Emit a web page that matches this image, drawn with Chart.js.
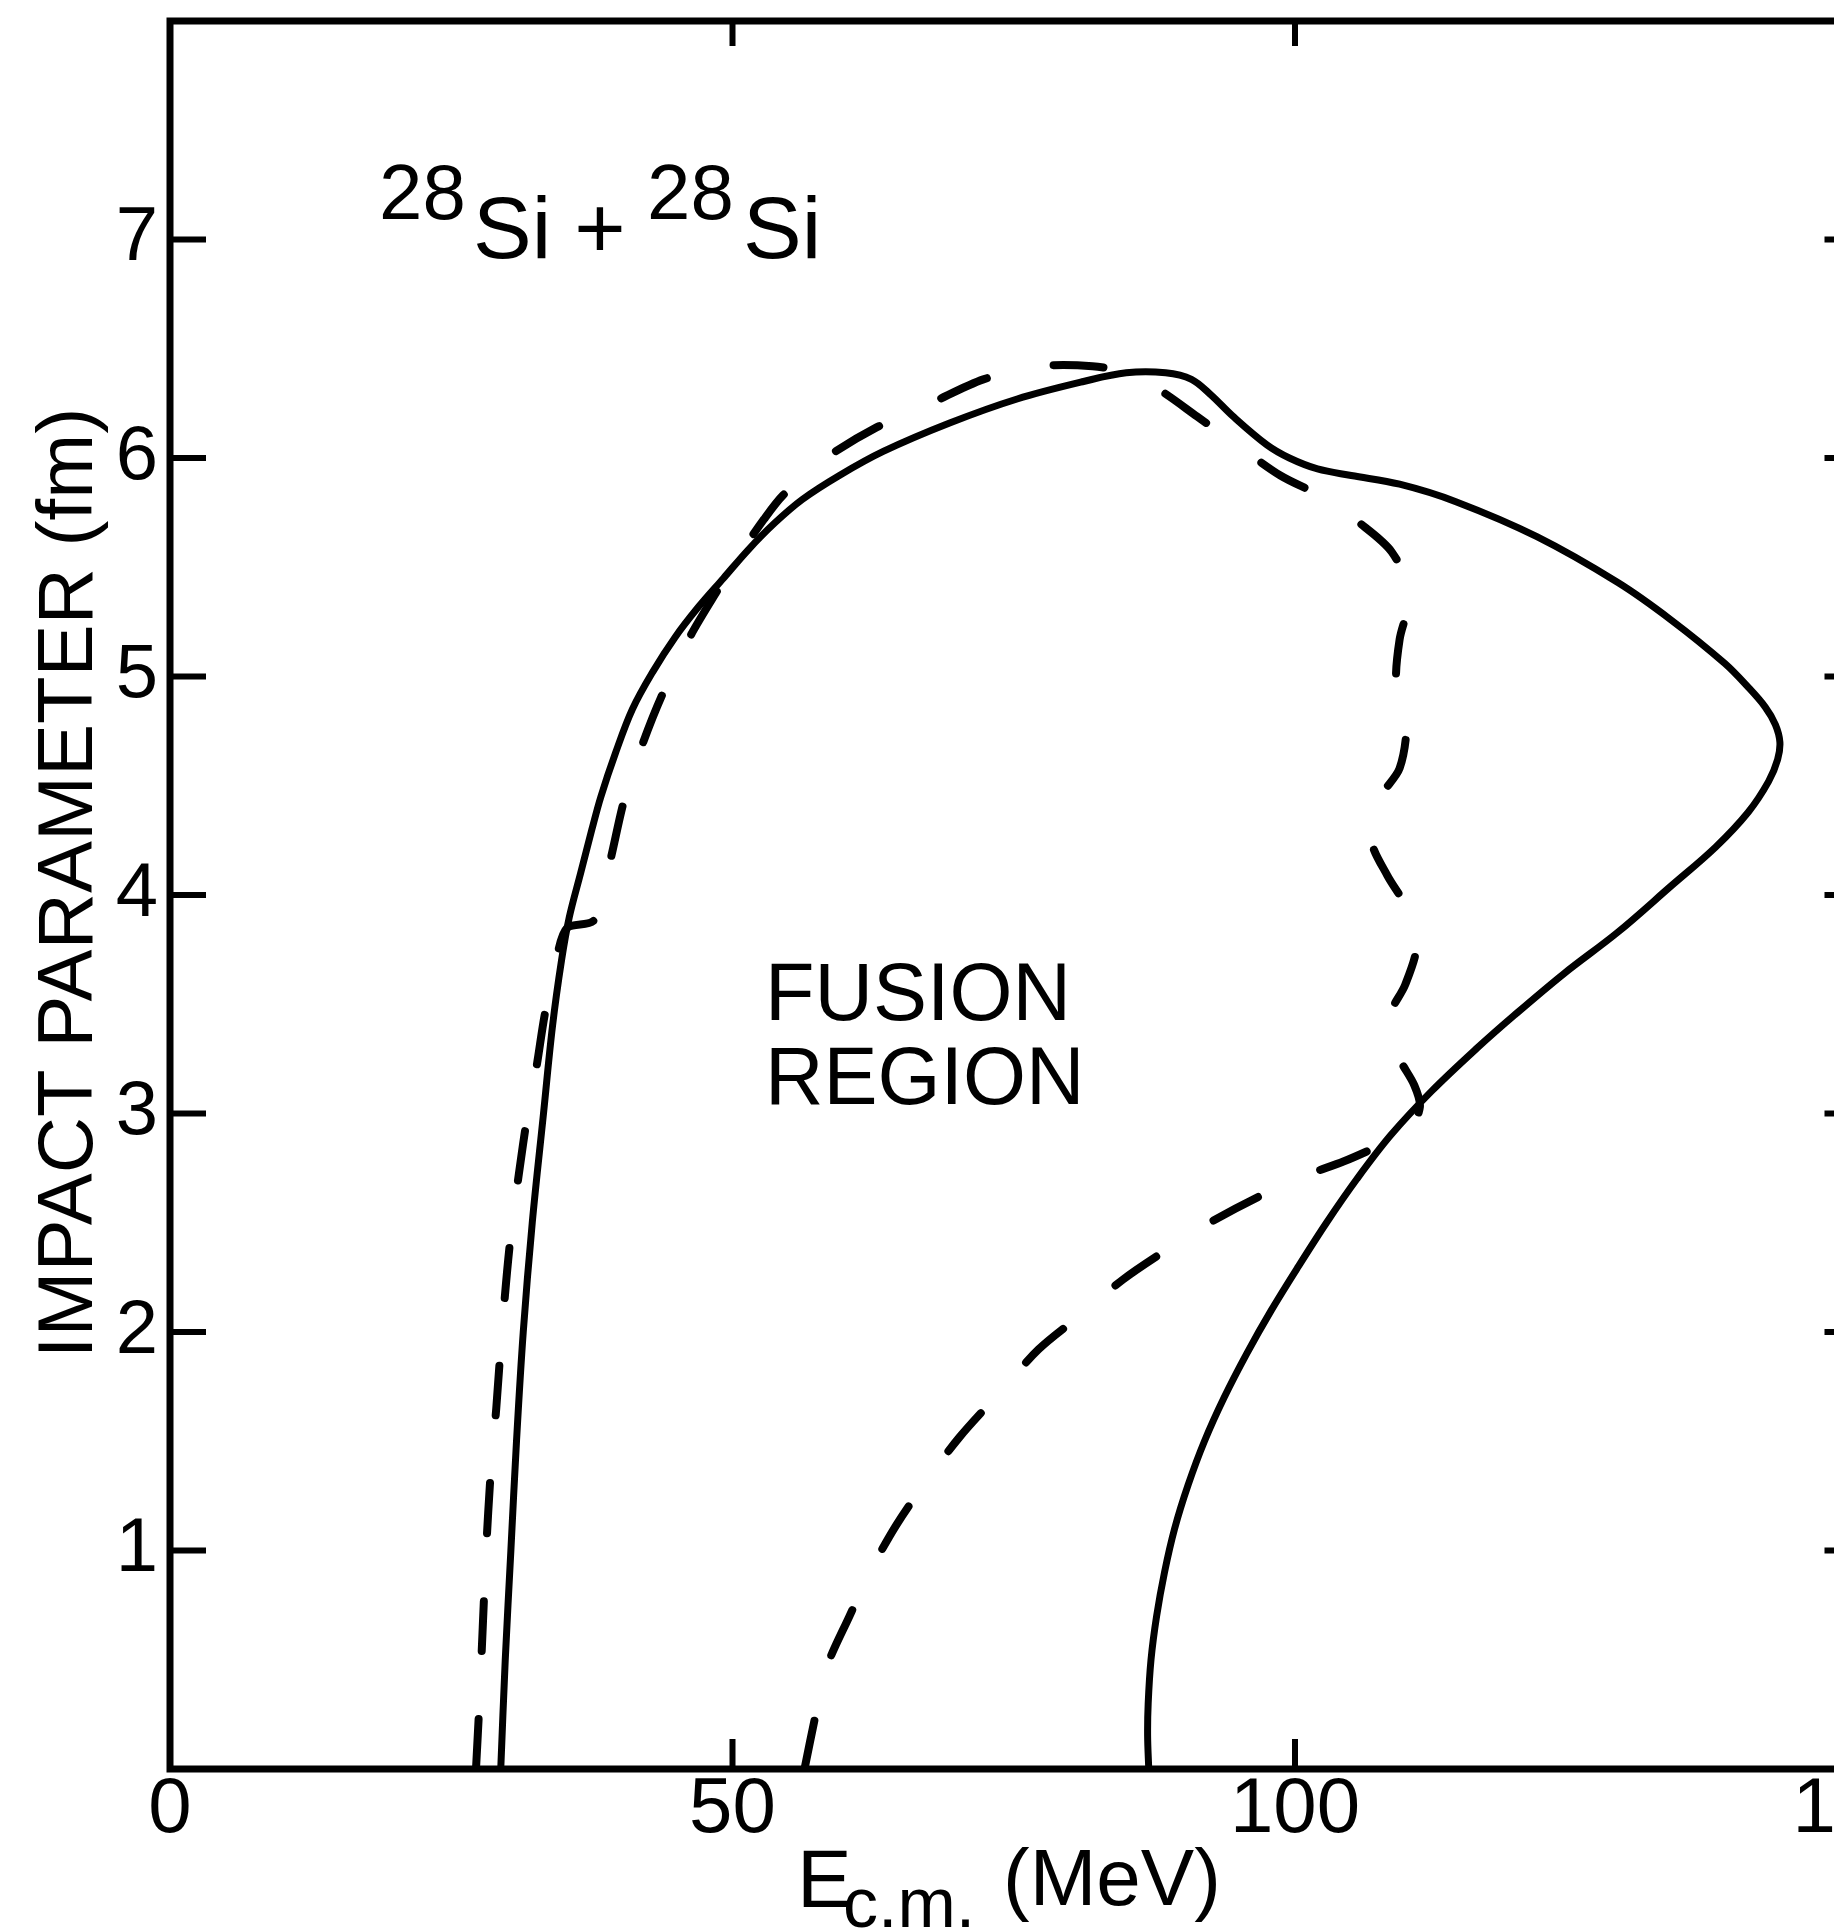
<!DOCTYPE html>
<html>
<head>
<meta charset="utf-8">
<script src="https://cdn.jsdelivr.net/npm/chart.js@4.4.1/dist/chart.umd.min.js"></script>
<style>
  html, body { margin: 0; padding: 0; background: #fff; overflow: hidden; }
  #wrap { width: 1940px; height: 1931px; }
</style>
</head>
<body>
<div id="wrap"><canvas id="chart" width="1940" height="1931"></canvas></div>
<script>
// 28Si + 28Si fusion region: impact parameter (fm) vs E c.m. (MeV)
const xTicks = [0, 50, 100, 150];
const yTicks = [1, 2, 3, 4, 5, 6, 7];

// solid boundary
const solidE = [29.4, 29.8, 30.3, 30.8, 31.4, 32.2, 33.2, 34.0, 34.8, 35.5, 36.5, 37.5, 38.3, 39.6, 41.1,
  42.9, 44.9, 47.0, 49.2, 51.4, 53.7, 56.2, 59.5, 63.4, 69.3, 75.3, 81.2, 85.0, 88.5, 90.8, 92.5,
  94.5, 97.5, 99.5, 102.0, 105.0, 109.3, 114.3, 121.5, 128.7, 133.4, 138.2, 140.3, 141.8, 142.7,
  143.1, 142.9, 142.1, 140.3, 137.4, 133.4, 128.7, 123.9, 119.5, 116.2, 112.1, 108.5, 105.5, 102.8,
  100.3, 97.9, 95.7, 93.7, 91.95, 90.5, 89.3, 88.4, 87.7, 87.2, 86.95, 86.9, 87.0];
const solidB = [0, 0.5, 1.0, 1.5, 2.0, 2.5, 3.0, 3.4, 3.7, 3.9, 4.1, 4.3, 4.45, 4.65, 4.85,
  5.02, 5.18, 5.32, 5.45, 5.58, 5.70, 5.81, 5.92, 6.03, 6.16, 6.27, 6.35, 6.39, 6.39, 6.36, 6.29,
  6.19, 6.06, 6.00, 5.95, 5.92, 5.88, 5.80, 5.64, 5.43, 5.26, 5.06, 4.95, 4.86, 4.78,
  4.70, 4.62, 4.52, 4.38, 4.22, 4.04, 3.83, 3.64, 3.45, 3.30, 3.10, 2.90, 2.70, 2.50,
  2.30, 2.10, 1.90, 1.70, 1.50, 1.30, 1.10, 0.90, 0.70, 0.50, 0.30, 0.15, 0];

// dashed boundary
const dashE = [27.2, 27.5, 27.8, 28.1, 28.5, 29.0, 29.5, 30.2, 31.0, 31.8, 32.6, 33.3, 34.4, 35.3, 37.6,
  38.3, 39.1, 40.4, 42.0, 43.7, 46.2, 48.5, 50.8, 52.8, 54.5, 58.0, 62.8, 67.6, 72.3, 77.3, 82.0,
  85.0, 88.0, 91.3, 95.1, 98.7, 102.5, 105.8, 108.6, 110.2, 109.3, 109.0, 109.9, 109.3, 107.5, 106.8,
  108.2, 110.3, 110.8, 109.8, 108.3, 109.2, 110.6, 111.1, 110.1, 107.8, 104.3, 101.1, 96.8, 92.4,
  88.4, 84.7, 81.0, 77.2, 73.7, 70.2, 67.4, 64.6, 62.3, 60.4, 58.4, 57.4, 56.4];
const dashB = [0, 0.3, 0.65, 1.0, 1.35, 1.65, 2.0, 2.4, 2.72, 3.0, 3.22, 3.45, 3.72, 3.85, 3.88,
  4.0, 4.15, 4.44, 4.69, 4.91, 5.18, 5.38, 5.57, 5.72, 5.83, 5.99, 6.14, 6.25, 6.36, 6.42, 6.42,
  6.39, 6.31, 6.19, 6.05, 5.92, 5.82, 5.70, 5.57, 5.38, 5.17, 4.97, 4.79, 4.58, 4.44, 4.25,
  4.09, 3.91, 3.76, 3.59, 3.43, 3.26, 3.13, 3.03, 2.92, 2.86, 2.78, 2.72, 2.62, 2.50,
  2.37, 2.24, 2.08, 1.92, 1.72, 1.52, 1.33, 1.12, 0.91, 0.70, 0.47, 0.25, 0];

const toPoints = (xs, ys) => xs.map((v, i) => ({ x: v, y: ys[i] }));

const txt = '"Liberation Sans", Arial, sans-serif';

// box, inward ticks and the lettering
const frame = {
  id: 'frame',
  afterDraw(chart) {
    const { ctx, chartArea: a, scales: { x, y } } = chart;
    ctx.save();
    ctx.strokeStyle = '#000';
    ctx.lineWidth = 7;
    ctx.strokeRect(a.left, a.top, a.right - a.left, a.bottom - a.top);

    ctx.lineWidth = 6;
    ctx.beginPath();
    yTicks.forEach(v => {
      const py = y.getPixelForValue(v);
      ctx.moveTo(a.left, py); ctx.lineTo(a.left + 36, py);
      ctx.moveTo(a.right, py); ctx.lineTo(a.right - 33, py);
    });
    xTicks.slice(1, -1).forEach(v => {
      const px = x.getPixelForValue(v);
      ctx.moveTo(px, a.bottom); ctx.lineTo(px, a.bottom - 30);
      ctx.moveTo(px, a.top); ctx.lineTo(px, a.top + 25);
    });
    ctx.stroke();

    ctx.fillStyle = '#000';
    ctx.textBaseline = 'alphabetic';
    ctx.textAlign = 'left';

    // reaction label
    ctx.font = '78px ' + txt;
    ctx.fillText('28', 379, 219);
    ctx.fillText('28', 647, 219);
    ctx.font = '88px ' + txt;
    ctx.fillText('Si', 473, 258);
    ctx.fillText('Si', 743, 258);
    ctx.textAlign = 'center';
    ctx.fillText('+', 600, 258);

    ctx.textAlign = 'left';
    ctx.font = '81px ' + txt;
    ctx.fillText('FUSION', 765, 1020);
    ctx.fillText('REGION', 765, 1104);

    // x title with subscript
    ctx.font = '82px ' + txt;
    ctx.fillText('E', 797, 1907);
    ctx.font = '70px ' + txt;
    ctx.fillText('c.m.', 843, 1927);
    ctx.font = '80px ' + txt;
    ctx.fillText('(MeV)', 1003, 1905);

    // y title
    ctx.translate(92, 883);
    ctx.rotate(-Math.PI / 2);
    ctx.textAlign = 'center';
    ctx.font = '78px ' + txt;
    ctx.fillText('IMPACT PARAMETER (fm)', 0, 0);
    ctx.restore();
  }
};

new Chart(document.getElementById('chart'), {
  type: 'scatter',
  data: {
    datasets: [
      {
        label: 'solid',
        data: toPoints(solidE, solidB),
        showLine: true,
        borderColor: '#000',
        borderWidth: 7,
        borderCapStyle: 'round',
        borderJoinStyle: 'round',
        pointRadius: 0,
        tension: 0.35,
      },
      {
        label: 'dashed',
        data: toPoints(dashE, dashB),
        showLine: true,
        borderColor: '#000',
        borderWidth: 8,
        borderDash: [50, 68],
        borderCapStyle: 'round',
        borderJoinStyle: 'round',
        pointRadius: 0,
        tension: 0.3,
      },
    ],
  },
  options: {
    responsive: false,
    animation: false,
    devicePixelRatio: 1,
    layout: { padding: { top: 21, right: 82.5, left: 0, bottom: 0 } },
    plugins: {
      legend: { display: false },
      tooltip: { enabled: false },
    },
    scales: {
      x: {
        type: 'linear',
        min: 0,
        max: 150,
        afterBuildTicks: s => { s.ticks = xTicks.map(v => ({ value: v })); },
        afterFit: s => { s.height = 162; s.paddingLeft = 0; s.paddingRight = 0; },
        grid: { display: false, drawTicks: false },
        border: { display: false },
        ticks: {
          color: '#000',
          padding: 2,
          maxRotation: 0,
          autoSkip: false,
          font: { family: txt, size: 78, lineHeight: 1 },
        },
      },
      y: {
        type: 'linear',
        min: 0,
        max: 8,
        afterBuildTicks: s => { s.ticks = yTicks.map(v => ({ value: v })); },
        afterFit: s => { s.width = 170; s.paddingTop = 0; s.paddingBottom = 0; },
        grid: { display: false, drawTicks: false },
        border: { display: false },
        ticks: {
          color: '#000',
          padding: 12,
          autoSkip: false,
          font: { family: txt, size: 76, lineHeight: 1 },
        },
      },
    },
  },
  plugins: [frame],
});
</script>
</body>
</html>
